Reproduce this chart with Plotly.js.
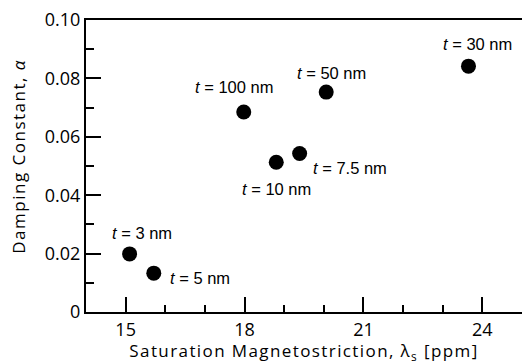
<!DOCTYPE html>
<html>
<head>
<meta charset="utf-8">
<script src="https://cdn.plot.ly/plotly-3.0.1.min.js"></script>
<style>
html,body{margin:0;padding:0;background:#fff;}
#chart{width:522px;height:364px;}
.xtitle{letter-spacing:1.4px;}
</style>
</head>
<body>
<div id="chart"></div>
<script>
// Data
const thickness = ["3", "5", "10", "7.5", "100", "50", "30"];
const lambdaS = [15.1, 15.71, 18.8, 19.39, 17.98, 20.06, 23.65];
const alpha = [0.0199, 0.0133, 0.0513, 0.0543, 0.0685, 0.0753, 0.0842];
const xTickVals = [15, 18, 21, 24];
const yTickVals = [0, 0.02, 0.04, 0.06, 0.08, 0.10];
const yTickText = ["0", "0.02", "0.04", "0.06", "0.08", "0.10"];

// Label offsets in pixels (text placement only)
const labelShiftX = [12, 46, 0, 50, -10, 5, 9];
const labelShiftY = [21, -5, -27, -15, 25, 19, 22];

const annotations = thickness.map((t, i) => ({
  x: lambdaS[i], y: alpha[i], xref: 'x', yref: 'y',
  text: '<i>t</i> = ' + t + ' nm',
  showarrow: false,
  xshift: labelShiftX[i], yshift: labelShiftY[i],
  font: {family: 'Liberation Sans, Arial, sans-serif', size: 16.5, color: '#000'}
}));

// y-axis title drawn as a rotated annotation
annotations.push({
  xref: 'paper', yref: 'paper', x: -68 / 436, y: (312 - 156.5) / 292,
  xanchor: 'center', yanchor: 'middle', textangle: -90,
  text: 'Damping Constant, <i>α</i>', showarrow: false,
  font: {family: 'Open Sans, sans-serif', size: 17, color: '#000'}
});

const trace = {
  x: lambdaS, y: alpha, type: 'scatter', mode: 'markers',
  marker: {size: 15, color: '#000'},
  hoverinfo: 'none'
};

const tickFont = {family: 'Open Sans, sans-serif', size: 18, color: '#000'};

const layout = {
  width: 522, height: 364,
  margin: {l: 86, r: 0, t: 20, b: 52},
  paper_bgcolor: '#fff', plot_bgcolor: '#fff',
  showlegend: false,
  xaxis: {
    range: [14, 25], showgrid: false, zeroline: false,
    showline: true, linecolor: '#000', linewidth: 2, mirror: true,
    ticks: 'inside', ticklen: 15, tickwidth: 2, tickcolor: '#000',
    tickvals: xTickVals, ticktext: xTickVals.map(String),
    tickfont: tickFont,
    minor: {dtick: 1, ticks: 'inside', ticklen: 7, tickwidth: 2, tickcolor: '#000', showgrid: false},
    title: {text: 'Saturation Magnetostriction, λ<sub>s</sub> [ppm]', font: {family: 'Open Sans, sans-serif', size: 17, color: '#000'}, standoff: 12},
    automargin: false
  },
  yaxis: {
    range: [0, 0.1], showgrid: false, zeroline: false,
    showline: true, linecolor: '#000', linewidth: 2,
    ticks: 'inside', ticklen: 15, tickwidth: 2, tickcolor: '#000',
    tickvals: yTickVals, ticktext: yTickText,
    tickfont: tickFont,
    minor: {dtick: 0.01, ticks: 'inside', ticklen: 8, tickwidth: 2, tickcolor: '#000', showgrid: false},
    automargin: false
  },
  annotations: annotations
};

Plotly.newPlot('chart', [trace], layout, {staticPlot: true, displayModeBar: false}).then(() => {
  document.querySelectorAll('.annotation-text').forEach(el => {
    if (el.textContent.indexOf('Damping') >= 0) el.style.letterSpacing = '1.5px';
  });
});
</script>
</body>
</html>
